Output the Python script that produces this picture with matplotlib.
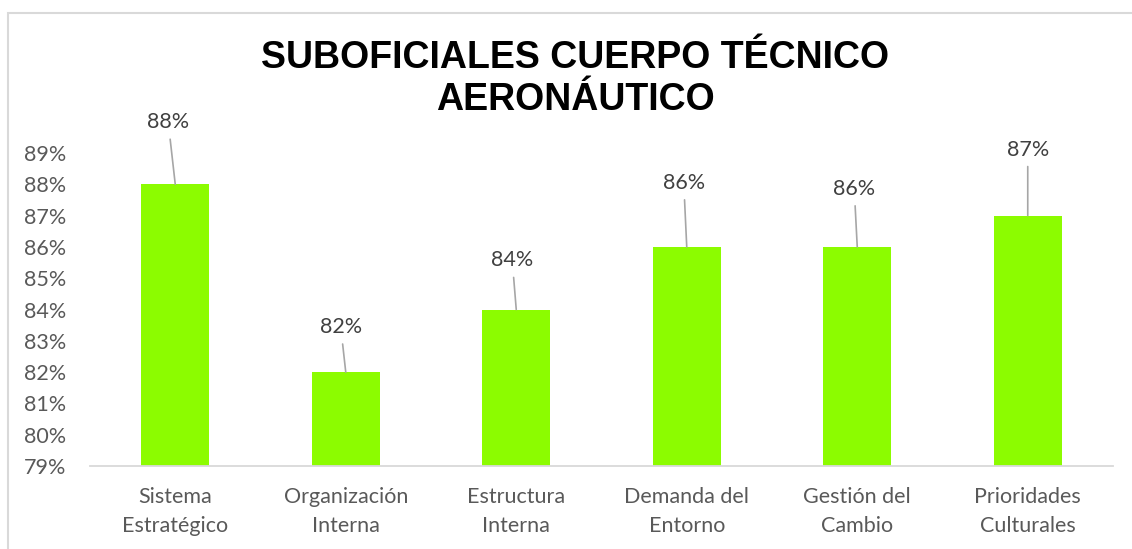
import matplotlib
matplotlib.use('Agg')
import matplotlib.pyplot as plt
from matplotlib.patches import Rectangle

# data
categories = ['Sistema\nEstratégico', 'Organización\nInterna', 'Estructura\nInterna',
              'Demanda del\nEntorno', 'Gestión del\nCambio', 'Prioridades\nCulturales']
values = [88, 82, 84, 86, 86, 87]
yticks = list(range(79, 90))
title = 'SUBOFICIALES CUERPO TÉCNICO\nAERONÁUTICO'

# label placement (pixels from bar top), purely layout
label_dx = [-7, -5, -4, -3, -3, 0]
label_dy = [62, 45, 49, 64, 58, 66]

W, H = 1132, 549
fig = plt.figure(figsize=(W / 100, H / 100), dpi=100)
ax = fig.add_axes([90 / W, 1 - 466 / H, (1113 - 90) / W, (466 - 153) / H])

bar_color = '#8cfc00'
x = list(range(len(categories)))
ax.bar(x, [v - 79 for v in values], bottom=79, width=0.4, color=bar_color, zorder=2)

ax.set_xlim(-0.5, len(categories) - 0.5)
ax.set_ylim(79, 89)
ax.set_yticks(yticks)
ax.set_yticklabels(['%d%%' % t for t in yticks])
ax.set_xticks(x)
ax.set_xticklabels(categories, linespacing=1.55)

tick_font = ['Lato', 'DejaVu Sans']
for lbl in ax.get_yticklabels() + ax.get_xticklabels():
    lbl.set_family(tick_font)
    lbl.set_fontsize(15.5)
    lbl.set_color('#595959')
ax.tick_params(axis='y', length=0, pad=17)
ax.tick_params(axis='x', length=0, pad=15)

for side in ['top', 'right', 'left']:
    ax.spines[side].set_visible(False)
ax.spines['bottom'].set_color('#d9d9d9')
ax.spines['bottom'].set_linewidth(1.3)

pt = 72 / 100.0
for i, v in enumerate(values):
    ax.annotate('%d%%' % v, xy=(i, v), xytext=(label_dx[i] * pt, label_dy[i] * pt),
                textcoords='offset points', ha='center', va='center',
                fontsize=15.5, family=tick_font, color='#404040',
                arrowprops=dict(arrowstyle='-', color='#a6a6a6', lw=1.2,
                                shrinkA=3, shrinkB=0))

fig.text(575 / W, 1 - 79 / H, title, ha='center', va='center',
         family=['Liberation Sans', 'DejaVu Sans'], fontweight='bold',
         fontsize=27, linespacing=1.2, color='black')

# outer chart frame (cut off on right and bottom)
fig.add_artist(Rectangle((8 / W, -0.2), 2, (H - 13) / H + 0.2, transform=fig.transFigure,
                         fill=False, edgecolor='#d9d9d9', lw=1.5))

fig.savefig('out.png', dpi=100)
